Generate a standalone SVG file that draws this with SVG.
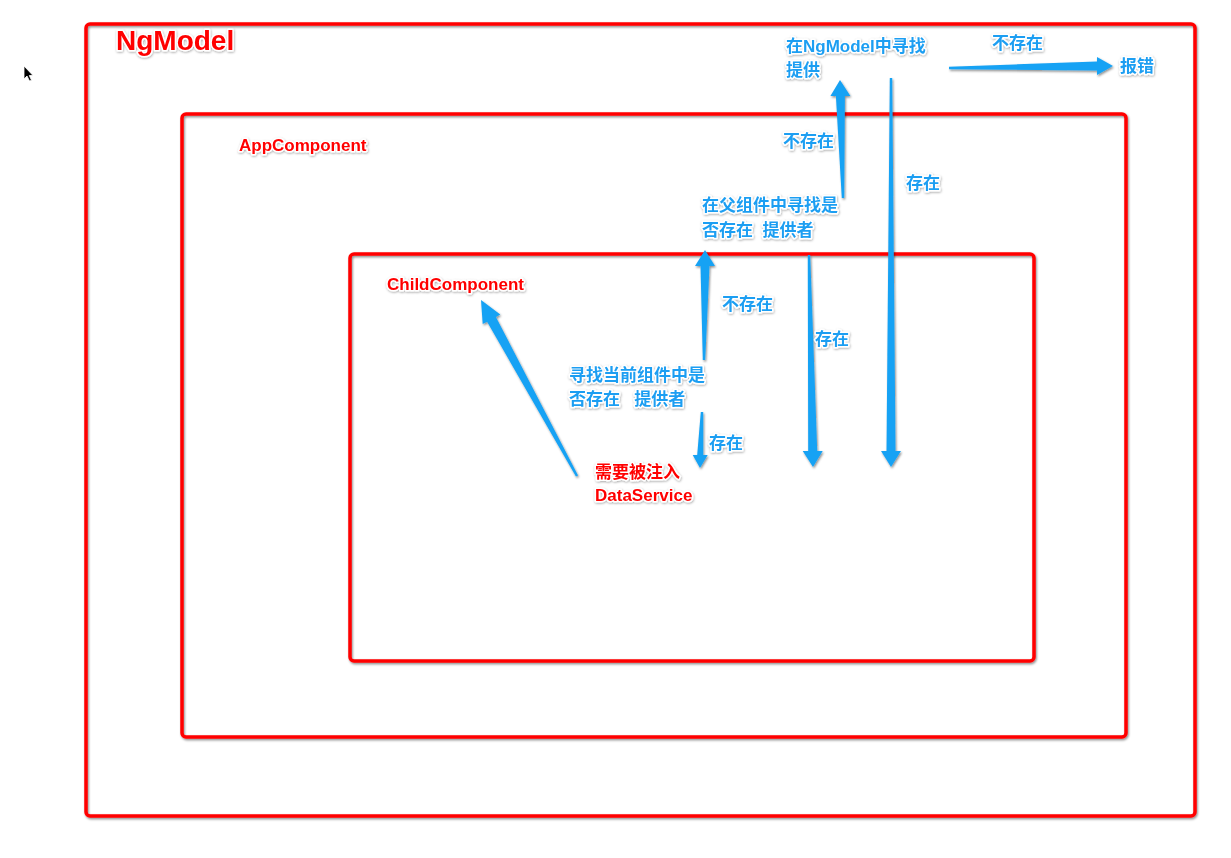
<svg xmlns="http://www.w3.org/2000/svg" width="1231" height="858" viewBox="0 0 1231 858">
<defs>
<filter id="sh" x="-20%" y="-20%" width="140%" height="140%">
<feDropShadow dx="1" dy="1.5" stdDeviation="1.2" flood-color="#000" flood-opacity="0.45"/>
</filter>
<filter id="tsh" x="-10%" y="-30%" width="120%" height="160%">
<feDropShadow dx="0.5" dy="1" stdDeviation="0.8" flood-color="#000" flood-opacity="0.35"/>
</filter>
</defs>
<style>
.box{fill:none;stroke:#ff0000;stroke-width:3.5;filter:url(#sh)}
.t{font-family:"Liberation Sans","Noto Sans CJK SC",sans-serif;font-weight:bold;stroke:#fff;stroke-width:3;paint-order:stroke;stroke-linejoin:round;filter:url(#tsh)}
.red{fill:#ff0000}
.blue{fill:#1b9ef2;font-size:17px}
.arr{fill:#18a2f4;filter:url(#sh)}
</style>
<rect width="1231" height="858" fill="#fff"/>
<polygon points="24,66 24,79 27,76 29.5,81 31.5,80.3 29.3,75.5 33,75.5" fill="#000" stroke="#fff" stroke-width="0.8"/>
<g id="ngmodel">
<rect class="box" x="86" y="24" width="1109" height="792" rx="4"/>
<text class="t red" x="116" y="50" font-size="28">NgModel</text>
</g>
<g id="appcomponent">
<rect class="box" x="182" y="114" width="944" height="623" rx="4"/>
<text class="t red" x="239" y="151" font-size="17">AppComponent</text>
</g>
<g id="childcomponent">
<rect class="box" x="350" y="254" width="684" height="407" rx="4"/>
<text class="t red" x="387" y="290" font-size="17">ChildComponent</text>
</g>
<g id="inject">
<text class="t red" x="595" y="478" font-size="17">需要被注入</text>
<text class="t red" x="595" y="501" font-size="17">DataService</text>
</g>
<g id="find-current">
<text class="t blue" x="569" y="381">寻找当前组件中是</text>
<text class="t blue" x="569" y="405" xml:space="preserve">否存在   提供者</text>
</g>
<g id="find-parent">
<text class="t blue" x="702" y="211">在父组件中寻找是</text>
<text class="t blue" x="702" y="236" xml:space="preserve">否存在  提供者</text>
</g>
<g id="find-ngmodel">
<text class="t blue" x="786" y="52">在NgModel中寻找</text>
<text class="t blue" x="786" y="76">提供</text>
</g>
<g id="error">
<text class="t blue" x="1120" y="72">报错</text>
</g>
<g id="connectors">
<polygon class="arr" points="578.05,475.4 495.9,316.9 500.3,314.5 481,300 482.7,324.1 487.1,321.7 575.95,476.6"/>
<polygon class="arr" points="702.8,360 700.5,266 695,266 705,250 715,266 709.5,266 705.2,360"/>
<polygon class="arr" points="700.8,412 697.2,455 692.7,455 700,468 707.7,455 703.2,455 703.2,412"/>
<polygon class="arr" points="807.8,255 808.2,451 802.7,451 813,467 822.7,451 817.2,451 810.2,255"/>
<polygon class="arr" points="889.8,78 886.5,451 881,451 891,467 901,451 895.5,451 892.2,78"/>
<polygon class="arr" points="841.8,198 835.9,96 830.4,96 840,80 850.4,96 844.9,96 844.2,198"/>
<polygon class="arr" points="949,66.8 1097,61.5 1097,57 1113,66 1097,75 1097,70.5 949,69.2"/>
<text class="t blue" x="709" y="449">存在</text>
<text class="t blue" x="722" y="310">不存在</text>
<text class="t blue" x="815" y="345">存在</text>
<text class="t blue" x="783" y="147">不存在</text>
<text class="t blue" x="906" y="189">存在</text>
<text class="t blue" x="992" y="49">不存在</text>
</g>
</svg>
